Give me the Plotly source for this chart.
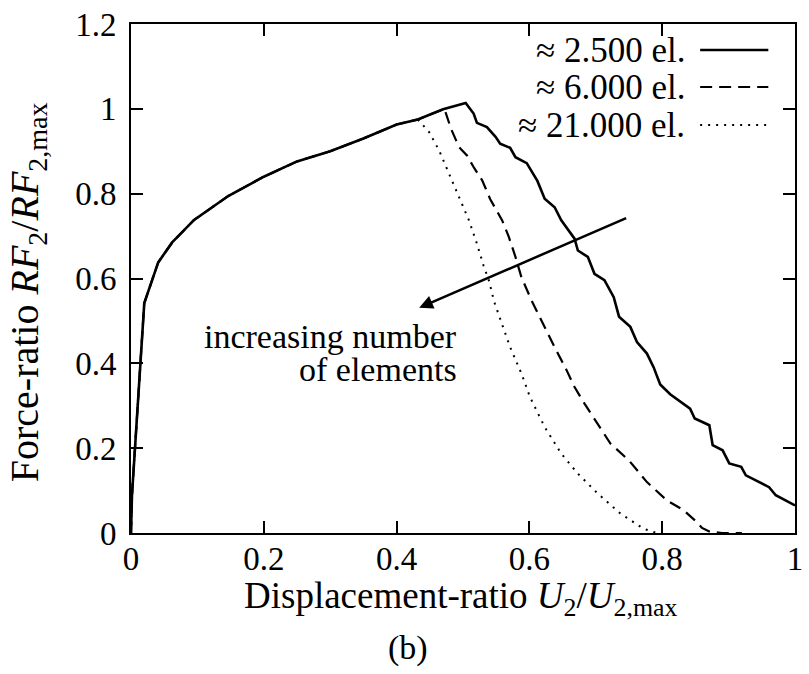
import plotly.graph_objects as go

# ---------------- data ----------------
x_2500 = [0, 0.0015, 0.02, 0.041, 0.062, 0.095, 0.147, 0.2, 0.25, 0.3, 0.35, 0.4, 0.432, 0.47,
          0.504, 0.516, 0.521, 0.536, 0.549, 0.556, 0.571, 0.579, 0.596, 0.603, 0.612, 0.623,
          0.638, 0.648, 0.668, 0.673, 0.688, 0.698, 0.713, 0.727, 0.735, 0.752, 0.762, 0.777,
          0.787, 0.797, 0.812, 0.842, 0.849, 0.871, 0.876, 0.891, 0.901, 0.919, 0.926, 0.941,
          0.961, 0.971, 1.0]
y_2500 = [0, 0.09, 0.542, 0.638, 0.685, 0.738, 0.795, 0.84, 0.876, 0.9, 0.93, 0.963, 0.975, 0.999,
          1.014, 0.989, 0.967, 0.957, 0.934, 0.918, 0.908, 0.886, 0.872, 0.855, 0.83, 0.788,
          0.768, 0.737, 0.694, 0.666, 0.651, 0.611, 0.596, 0.556, 0.51, 0.486, 0.45, 0.423,
          0.391, 0.35, 0.327, 0.293, 0.27, 0.254, 0.207, 0.195, 0.164, 0.156, 0.136, 0.124,
          0.108, 0.089, 0.065]

x_6000 = [0, 0.0015, 0.02, 0.041, 0.062, 0.095, 0.147, 0.2, 0.25, 0.3, 0.35, 0.4, 0.432, 0.472,
          0.482, 0.494, 0.506, 0.517, 0.529, 0.541, 0.559, 0.569, 0.579, 0.588, 0.603, 0.618,
          0.638, 0.656, 0.668, 0.683, 0.703, 0.722, 0.75, 0.777, 0.807, 0.832, 0.852, 0.86,
          0.872, 0.89, 0.92]
y_6000 = [0, 0.09, 0.542, 0.638, 0.685, 0.738, 0.795, 0.84, 0.876, 0.9, 0.93, 0.963, 0.975, 1.0,
          0.953, 0.91, 0.89, 0.86, 0.831, 0.787, 0.737, 0.698, 0.651, 0.603, 0.549, 0.501,
          0.438, 0.384, 0.344, 0.305, 0.258, 0.211, 0.171, 0.12, 0.077, 0.054, 0.026, 0.012,
          0.003, 0.0, 0.0]

x_21000 = [0, 0.0015, 0.02, 0.041, 0.062, 0.095, 0.147, 0.2, 0.25, 0.3, 0.35, 0.4, 0.432,
           0.449, 0.464, 0.48, 0.495, 0.509, 0.521, 0.531, 0.539, 0.547, 0.556, 0.571, 0.588,
           0.601, 0.623, 0.648, 0.673, 0.703, 0.737, 0.772, 0.792]
y_21000 = [0, 0.09, 0.542, 0.638, 0.685, 0.738, 0.795, 0.84, 0.876, 0.9, 0.93, 0.963, 0.975,
           0.945, 0.902, 0.843, 0.792, 0.737, 0.682, 0.63, 0.595, 0.545, 0.505, 0.438, 0.376,
           0.32, 0.25, 0.187, 0.14, 0.093, 0.046, 0.01, 0.0]

series_names = ["≈ 2.500 el.", "≈ 6.000 el.", "≈ 21.000 el."]

x_ticks = [0, 0.2, 0.4, 0.6, 0.8, 1]
x_ticktext = ["0", "0.2", "0.4", "0.6", "0.8", "1"]
y_ticks = [0, 0.2, 0.4, 0.6, 0.8, 1, 1.2]
y_ticktext = ["0", "0.2", "0.4", "0.6", "0.8", "1", "1.2"]

# ---------------- figure ----------------
FONT = "Liberation Serif"
W, H = 809, 674
ML, MR, MT, MB = 131, 6, 24, 141

styles = [
    dict(color="black", width=2.6, dash="solid"),
    dict(color="black", width=2.2, dash="12px,7px"),
    dict(color="black", width=2.0, dash="2px,6px"),
]

fig = go.Figure()
for xs, ys, st, nm in [(x_21000, y_21000, styles[2], series_names[2]),
                       (x_6000, y_6000, styles[1], series_names[1]),
                       (x_2500, y_2500, styles[0], series_names[0])]:
    fig.add_trace(go.Scatter(x=xs, y=ys, mode="lines", name=nm, line=st,
                             showlegend=False, hoverinfo="skip"))

axis_common = dict(
    showline=True, linecolor="black", linewidth=2, mirror="allticks",
    ticks="inside", ticklen=12, tickwidth=1.5, tickcolor="black",
    showgrid=False, zeroline=False, ticklabeloverflow="allow",
    tickfont=dict(family=FONT, size=33, color="black"),
)

fig.update_xaxes(range=[0, 1], tickvals=x_ticks, ticktext=x_ticktext,
                 ticklabelstandoff=-5, **axis_common)
fig.update_yaxes(range=[0, 1.2], tickvals=y_ticks, ticktext=y_ticktext,
                 ticklabelstandoff=6, **axis_common)

plot_h = H - MT - MB
plot_w = W - ML - MR


def py(pix):
    return (H - MB - pix) / plot_h


def px(pix):
    return (pix - ML) / plot_w


annotations = [
    # axis titles
    dict(text="Displacement-ratio <i>U</i><sub>2</sub>/<i>U</i><sub>2,max</sub>",
         xref="paper", yref="paper", x=px(465), y=py(598), xanchor="center", yanchor="middle",
         showarrow=False, font=dict(family=FONT, size=37, color="black")),
    dict(text="Force-ratio <i>RF</i><sub>2</sub>/<i>RF</i><sub>2,max</sub>",
         xref="paper", yref="paper", x=px(26), y=py(292), xanchor="center", yanchor="middle",
         textangle=-90, showarrow=False, font=dict(family=FONT, size=40, color="black")),
    dict(text="(b)", xref="paper", yref="paper", x=px(411), y=py(648),
         xanchor="center", yanchor="middle", showarrow=False,
         font=dict(family=FONT, size=34, color="black")),
    # note (two right-aligned lines) + arrow
    dict(text="increasing number", xref="x", yref="y", x=0.4937, y=0.463,
         xanchor="right", yanchor="middle", showarrow=False,
         font=dict(family=FONT, size=34, color="black")),
    dict(text="of elements", xref="x", yref="y", x=0.4937, y=0.386,
         xanchor="right", yanchor="middle", showarrow=False,
         font=dict(family=FONT, size=34, color="black")),
    dict(text="", xref="x", yref="y", axref="x", ayref="y", x=0.434, y=0.531,
         ax=0.748, ay=0.744, showarrow=True, arrowhead=2, arrowsize=1.1,
         arrowwidth=2.5, arrowcolor="black"),
]

# manual legend: text on the left, line sample on the right
legend_rows_px = [50, 87, 125]
shapes = []
for nm, st, rp in zip(series_names, styles, legend_rows_px):
    annotations.append(dict(text=nm, xref="paper", yref="paper", x=px(694), y=py(rp),
                            xanchor="right", yanchor="middle", showarrow=False,
                            font=dict(family=FONT, size=35, color="black")))
    shapes.append(dict(type="line", xref="paper", yref="paper",
                       x0=px(707), x1=px(776), y0=py(rp), y1=py(rp),
                       line=dict(color=st["color"], width=st["width"], dash=st["dash"])))

fig.update_layout(
    width=W, height=H,
    margin=dict(l=ML, r=MR, t=MT, b=MB, pad=0),
    paper_bgcolor="white", plot_bgcolor="white",
    font=dict(family=FONT, color="black"),
    annotations=annotations, shapes=shapes,
    showlegend=False,
)

fig.write_html("out.html")
